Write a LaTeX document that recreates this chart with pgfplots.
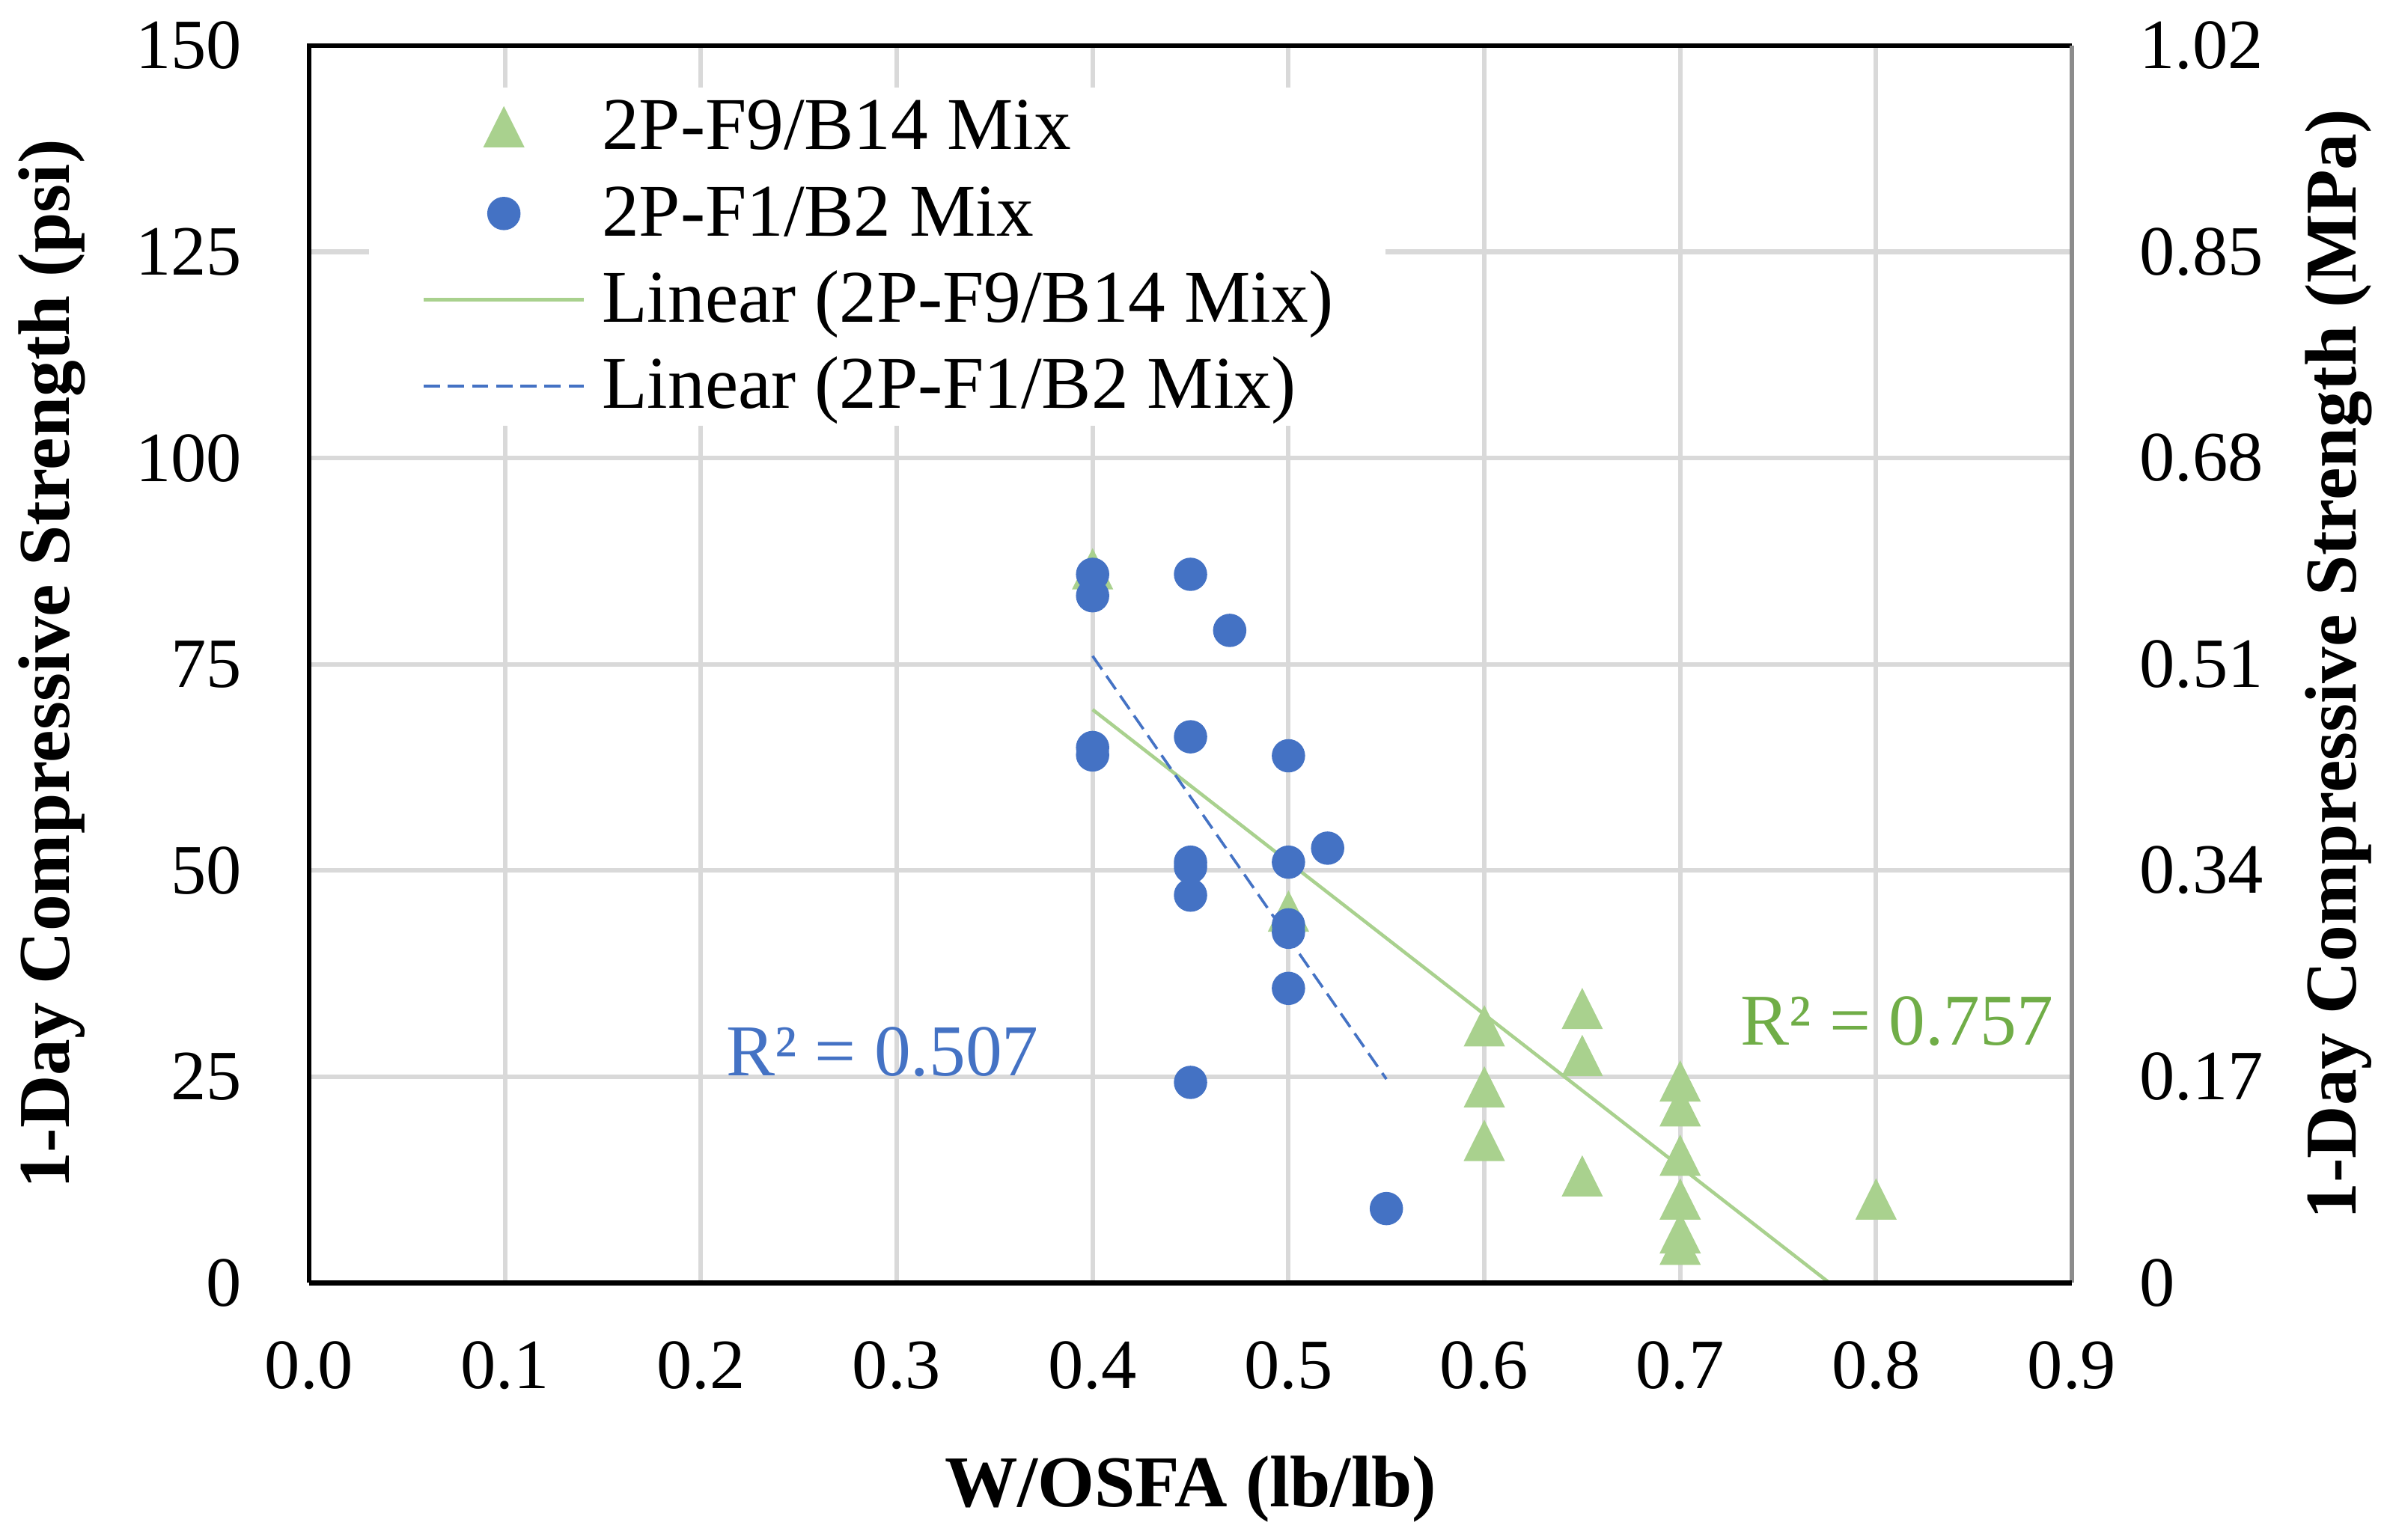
\documentclass[border=0pt]{standalone}
\usepackage{fontspec}
\setmainfont{Liberation Serif}
\usepackage{pgfplots}
\pgfplotsset{compat=1.18}
\definecolor{gtri}{HTML}{A9D18E}
\definecolor{gtext}{HTML}{70AD47}
\definecolor{bdot}{HTML}{4472C4}
\definecolor{gridc}{HTML}{D9D9D9}
\definecolor{raxis}{HTML}{8C8C8C}

\begin{document}
\begin{tikzpicture}
\begin{axis}[
  name=ax,
  scale only axis,
  width=386.3pt, height=271.2pt,
  xmin=0, xmax=0.9, ymin=0, ymax=150,
  xtick={0,0.1,0.2,0.3,0.4,0.5,0.6,0.7,0.8,0.9},
  ytick={0,25,50,75,100,125,150},
  x tick label style={/pgf/number format/fixed, /pgf/number format/fixed zerofill, /pgf/number format/precision=1},
  /pgf/number format/assume math mode=true,
  major tick length=0pt,
  tick style={draw=none},
  grid=major,
  major grid style={color=gridc, line width=1pt},
  axis line style={draw=none},
  ticklabel style={font=\fontsize{15.5}{18}\selectfont, inner sep=0pt},
  xticklabel shift=12.6pt,
  yticklabel shift=14.6pt,
  xlabel={W/OSFA (lb/lb)},
  ylabel={1-Day Compressive Strength (psi)},
  every axis x label/.style={at={([yshift=-45.3pt]axis description cs:0.5,0)}, anchor=center, font=\fontsize{16}{19}\selectfont\bfseries},
  every axis y label/.style={at={([xshift=-56.3pt]axis description cs:0,0.5)}, anchor=center, rotate=90, font=\fontsize{16}{19}\selectfont\bfseries},
  legend cell align=left,
  legend image code/.code={\draw[mark repeat=2,mark phase=2,#1] plot coordinates {(0pt,0pt) (17.6pt,0pt) (35.2pt,0pt)};},
  legend style={at={(axis description cs:0,1)}, anchor=north west, xshift=13pt, yshift=-9pt,
    draw=none, fill=white, inner xsep=11.5pt, inner ysep=2.6pt,
    column sep=3.5pt, row sep=6.7pt,
    font=\fontsize{16.3}{19}\selectfont,
    nodes={inner sep=0pt, text height=11pt, text depth=1.2pt}},
]
\addplot[only marks, mark=triangle*, mark size=5.6pt, color=gtri,
  mark options={fill=gtri, draw=gtri, xscale=0.866, yshift=-1.4pt}]
  coordinates {
  (0.4,86.5) (0.5,45.0) (0.6,31.1) (0.6,23.7) (0.6,17.2)
  (0.65,33.2) (0.65,27.5) (0.65,12.9)
  (0.7,24.4) (0.7,21.4) (0.7,15.4) (0.7,10.1) (0.7,6.0) (0.7,4.6)
  (0.8,10.1)};
\addlegendentry{2P-F9/B14 Mix}
\addplot[only marks, mark=*, mark size=3.45pt, color=bdot,
  mark options={fill=bdot, draw=bdot}]
  coordinates {
  (0.4,85.9) (0.4,83.3) (0.4,64.9) (0.4,64.0)
  (0.45,85.9) (0.45,66.2) (0.45,51.0) (0.45,50.4) (0.45,47.0) (0.45,24.3)
  (0.47,79.1)
  (0.5,63.9) (0.5,51.0) (0.5,43.4) (0.5,42.5) (0.5,35.7)
  (0.52,52.7) (0.55,9.0)};
\addlegendentry{2P-F1/B2 Mix}
\addplot[gtri, line width=0.75pt] coordinates {(0.4,69.5) (0.8,-4.4)};
\addlegendentry{Linear (2P-F9/B14 Mix)}
\addplot[bdot, line width=0.6pt, dash pattern=on 3.6pt off 1.7pt] coordinates {(0.4,76.0) (0.55,24.7)};
\addlegendentry{Linear (2P-F1/B2 Mix)}
\node[anchor=base west, text=bdot, font=\fontsize{16}{19}\selectfont, inner sep=0pt] at (axis cs:0.2124,25.1) {R² = 0.507};
\node[anchor=base west, text=gtext, font=\fontsize{16}{19}\selectfont, inner sep=0pt] at (axis cs:0.7305,28.8) {R² = 0.757};
\end{axis}
\begin{axis}[
  scale only axis,
  width=386.3pt, height=271.2pt,
  xmin=0, xmax=0.9, ymin=0, ymax=150,
  hide x axis,
  axis line style={draw=none},
  major tick length=0pt,
  tick style={draw=none},
  yticklabel pos=right,
  ytick={0,25,50,75,100,125,150},
  yticklabels={0,0.17,0.34,0.51,0.68,0.85,1.02},
  ticklabel style={font=\fontsize{15.5}{18}\selectfont, inner sep=0pt},
  yticklabel shift=14.6pt,
  ylabel={1-Day Compressive Strength (MPa)},
  every axis y label/.style={at={([xshift=58.4pt]axis description cs:1,0.5)}, anchor=center, rotate=90, font=\fontsize{16}{19}\selectfont\bfseries},
]
\end{axis}
\draw[black, line width=0.9pt] (ax.south west) -- (ax.north west) -- (ax.north east);
\draw[raxis, line width=0.9pt] (ax.north east) -- (ax.south east);
\draw[black, line width=1.1pt] (ax.south west) -- (ax.south east);
\pgfresetboundingbox
\path[use as bounding box] ([shift={(-67.75pt,-56.3pt)}]ax.south west) rectangle ([shift={(68.4pt,10pt)}]ax.north east);
\end{tikzpicture}
\end{document}
